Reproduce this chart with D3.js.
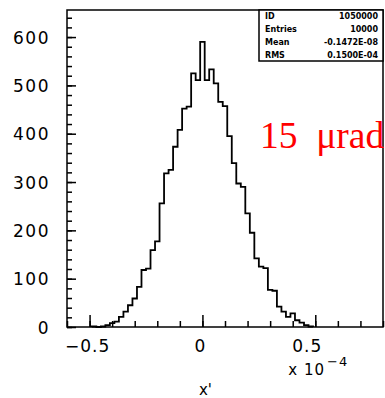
<!DOCTYPE html>
<html>
<head>
<meta charset="utf-8">
<script src="https://cdn.jsdelivr.net/npm/d3@7"></script>
<style>
  html, body { margin: 0; padding: 0; background: #fff; }
  svg { display: block; }
</style>
</head>
<body>
<svg id="chart" width="385" height="398"></svg>
<script>
// ---- data (x in units of 1e-4) ----
const binWidth = 0.02;
const binCenters = [
  -0.48, -0.46, -0.44, -0.42, -0.40, -0.38, -0.36, -0.34, -0.32, -0.30,
  -0.28, -0.26, -0.24, -0.22, -0.20, -0.18, -0.16, -0.14, -0.12, -0.10,
  -0.08, -0.06, -0.04, -0.02, 0.00, 0.02, 0.04, 0.06, 0.08, 0.10,
  0.12, 0.14, 0.16, 0.18, 0.20, 0.22, 0.24, 0.26, 0.28, 0.30,
  0.32, 0.34, 0.36, 0.38, 0.40, 0.42, 0.44, 0.46, 0.48
];
const counts = [
  1, 0, 1, 4, 8, 11, 21, 32, 45, 59,
  83, 118, 121, 159, 177, 256, 318, 325, 373, 408,
  452, 456, 525, 511, 590, 511, 533, 504, 466, 457,
  395, 339, 297, 290, 235, 195, 142, 125, 122, 77,
  75, 42, 32, 21, 28, 14, 9, 4, 1
];
const xDomain = [-0.6, 0.8];
const yDomain = [0, 656];
const xMajorTicks = [-0.5, 0, 0.5];
const xTickLabels = ["\u22120.5", "0", "0.5"];
const xMinorTicks = [-0.6, -0.5, -0.4, -0.3, -0.2, -0.1, 0, 0.1, 0.2, 0.3, 0.4, 0.5, 0.6, 0.7, 0.8];
const yMajorTicks = [0, 100, 200, 300, 400, 500, 600];
const yTickLabels = ["0", "100", "200", "300", "400", "500", "600"];
const yMinorTicks = d3.range(0, 641, 20);
const statsLabels = ["ID", "Entries", "Mean", "RMS"];
const statsValues = ["1050000", "10000", "-0.1472E-08", "0.1500E-04"];
const annotation = "15\u00a0\u00a0\u03bcrad";
const xExponent = "\u22124";
const xTitle = "x'";

// ---- layout ----
const L = 67, R = 383, T = 10, B = 327;
const svg = d3.select("#chart");
const x = d3.scaleLinear().domain(xDomain).range([L, R]);
const y = d3.scaleLinear().domain(yDomain).range([B, T]);

const tickFont = "'DejaVu Sans', sans-serif";

// x ticks (inward)
svg.append("g").attr("transform", `translate(0,${B})`)
  .call(d3.axisBottom(x).tickValues(xMinorTicks).tickSizeInner(-6).tickSizeOuter(0).tickFormat(""))
  .call(g => g.select(".domain").remove())
  .call(g => g.selectAll("line").attr("stroke", "#000").attr("stroke-width", 1.5));
svg.append("g").attr("transform", `translate(0,${B})`)
  .call(d3.axisBottom(x).tickValues(xMajorTicks).tickSizeInner(-12).tickSizeOuter(0).tickFormat(""))
  .call(g => g.select(".domain").remove())
  .call(g => g.selectAll("line").attr("stroke", "#000").attr("stroke-width", 1.5));

// y ticks (inward)
svg.append("g").attr("transform", `translate(${L},0)`)
  .call(d3.axisLeft(y).tickValues(yMinorTicks).tickSizeInner(-5).tickSizeOuter(0).tickFormat(""))
  .call(g => g.select(".domain").remove())
  .call(g => g.selectAll("line").attr("stroke", "#000").attr("stroke-width", 1.5));
svg.append("g").attr("transform", `translate(${L},0)`)
  .call(d3.axisLeft(y).tickValues(yMajorTicks).tickSizeInner(-9).tickSizeOuter(0).tickFormat(""))
  .call(g => g.select(".domain").remove())
  .call(g => g.selectAll("line").attr("stroke", "#000").attr("stroke-width", 1.5));

// histogram step outline
const pts = [[x(binCenters[0] - binWidth / 2), y(0)]];
binCenters.forEach((c, i) => {
  pts.push([x(c - binWidth / 2), y(counts[i])]);
  pts.push([x(c + binWidth / 2), y(counts[i])]);
});
pts.push([x(binCenters[binCenters.length - 1] + binWidth / 2), y(0)]);
svg.append("path")
  .attr("d", d3.line()(pts))
  .attr("fill", "none")
  .attr("stroke", "#000")
  .attr("stroke-width", 1.8)
  .attr("stroke-linejoin", "miter");

// frame
svg.append("rect")
  .attr("x", L).attr("y", T).attr("width", R - L).attr("height", B - T)
  .attr("fill", "none").attr("stroke", "#000").attr("stroke-width", 1.5);

// y labels
svg.append("g").selectAll("text").data(yMajorTicks).join("text")
  .attr("x", L - 17)
  .attr("y", d => y(d) + 6.5)
  .attr("text-anchor", "end")
  .attr("font-family", tickFont)
  .attr("font-size", 17)
  .attr("letter-spacing", 1.5)
  .attr("fill", "#000")
  .text((d, i) => yTickLabels[i]);

// x labels
svg.append("g").selectAll("text").data(xMajorTicks).join("text")
  .attr("x", d => x(d) - (d > 0 ? 8 : 2))
  .attr("y", B + 25)
  .attr("text-anchor", "middle")
  .attr("font-family", tickFont)
  .attr("font-size", 17)
  .attr("letter-spacing", 1)
  .attr("fill", "#000")
  .text((d, i) => xTickLabels[i]);

// exponent label
const ex = svg.append("text")
  .attr("x", x(0.5) - 27)
  .attr("y", B + 48)
  .attr("font-family", tickFont)
  .attr("font-size", 15)
  .attr("letter-spacing", 1)
  .attr("fill", "#000");
ex.append("tspan").text("x 10");
ex.append("tspan").attr("dy", -9).attr("dx", 2).attr("font-size", 13).text(xExponent);

// axis title
svg.append("text")
  .attr("x", x(0) + 3)
  .attr("y", B + 68)
  .attr("text-anchor", "middle")
  .attr("font-family", tickFont)
  .attr("font-size", 15)
  .attr("fill", "#000")
  .text(xTitle);

// stats box
const sbL = 259, sbB = 61;
svg.append("rect")
  .attr("x", sbL).attr("y", T).attr("width", R - sbL).attr("height", sbB - T)
  .attr("fill", "#fff").attr("stroke", "#000").attr("stroke-width", 1.5);
const rowH = (sbB - T) / statsLabels.length;
svg.append("g").selectAll("text").data(statsLabels).join("text")
  .attr("x", sbL + 6)
  .attr("y", (d, i) => T + rowH * i + rowH / 2 + 3)
  .attr("font-family", tickFont)
  .attr("font-weight", "bold")
  .attr("font-size", 8)
  .attr("fill", "#000")
  .text(d => d);
svg.append("g").selectAll("text").data(statsValues).join("text")
  .attr("x", R - 5)
  .attr("y", (d, i) => T + rowH * i + rowH / 2 + 3)
  .attr("text-anchor", "end")
  .attr("font-family", tickFont)
  .attr("font-weight", "bold")
  .attr("font-size", 8)
  .attr("fill", "#000")
  .text(d => d);

// annotation
svg.append("text")
  .attr("x", 260)
  .attr("y", 148)
  .attr("font-family", "'Liberation Serif', 'Times New Roman', serif")
  .attr("font-size", 37.5)
  .attr("fill", "#ff0000")
  .text(annotation);
</script>
</body>
</html>
